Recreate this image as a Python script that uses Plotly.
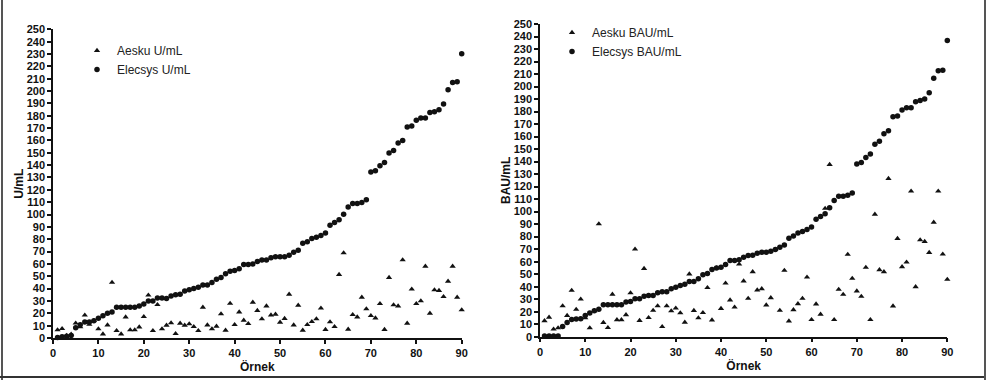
import plotly.graph_objects as go

samples = list(range(1, 91))

aesku_u = [6.5, 7.5, 2, 3, 12, 9, 18.5, 11, 14, 7.3,
           3.2, 10.5, 45, 5.9, 3.2, 17, 6.5, 6.5, 8.9, 17.3,
           34.7, 5.9, 27, 7.3, 10.3, 12.2, 3.5, 11.9, 10.3, 11.4,
           9.2, 5.9, 24.9, 10.5, 7.3, 9.5, 19.5, 6.2, 28, 10.8,
           21, 14.3, 11.6, 28.9, 22.2, 15.4, 25.9, 18.6, 19.2, 12.7,
           15.7, 35.4, 10.5, 26.5, 6.2, 10.8, 13.2, 15.4, 24.1, 6.8,
           13, 9.2, 51.4, 68.9, 7, 18.9, 17, 33, 23.5, 18.1,
           16.2, 27.8, 6.8, 48.9, 26.8, 25.9, 63.2, 11.9, 39.5, 27.8,
           30, 58.1, 20, 38.9, 38.4, 33.5, 45.9, 58.1, 33, 22.7]

elecsys_u = [0.5, 1, 1.5, 2, 8.4, 10.8, 13, 13, 14, 16,
             18, 20, 21, 25, 25, 25, 25, 25, 26, 27.5,
             30, 30, 32.4, 32.4, 32, 34, 35, 35.5, 38, 39,
             40, 41, 43, 43, 45, 47.5, 49, 52, 54, 54.6,
             56, 59.5, 59.5, 60, 62, 63.2, 63.2, 65, 65.7, 65.7,
             65.7, 67, 69.5, 71, 76.8, 78, 80.5, 81.6, 83, 85,
             91.4, 93.5, 95.7, 100.3, 106, 109, 109, 109.7, 111.9, 134.4,
             135.4, 139.5, 142.2, 149.8, 151.9, 157.9, 160, 170.9, 171.7, 176.3,
             178.2, 178.2, 182.7, 183.3, 184.9, 189.5, 201.1, 207, 207.6, 230.3]

aesku_bau = [12.7, 15.5, 6, 7, 24.6, 16.9, 37, 21.8, 30, 15,
             7, 20.7, 90.2, 11.3, 7.2, 33.9, 13.5, 13.5, 17.5, 35,
             70, 12.9, 54.5, 15.2, 21, 24.6, 8, 24.6, 20.6, 22.8,
             19, 11.5, 50.1, 20.9, 15, 19.2, 39.2, 13.3, 55, 22.5,
             42.8, 29.3, 23.6, 58, 44.5, 30.6, 51.9, 37.3, 38.3, 25.3,
             31.1, 69.7, 21, 53, 12.5, 21.5, 26.3, 30.6, 47.6, 13.6,
             26.1, 17.9, 102.5, 137.6, 13.6, 37.8, 33.8, 65.8, 46.6, 36.5,
             32.2, 55.4, 13.6, 97.9, 53.5, 51.9, 126.4, 24.5, 78.5, 55.9,
             59.6, 116.3, 39.9, 77.4, 76.1, 67.3, 91.5, 116.3, 66, 45.8]

elecsys_bau = [0.6, 0.6, 0.6, 0.6, 8.2, 11.4, 13.8, 14.1, 14.4, 17,
               18.9, 20.7, 22, 25.5, 25.5, 25.5, 25.5, 25.5, 27.7, 28.2,
               30.3, 30.3, 32.4, 33, 33, 35.1, 35.9, 35.9, 38.3, 39.6,
               41, 42, 44.1, 44.1, 46.3, 49.5, 50.5, 53.7, 55, 55.6,
               57.7, 60.9, 60.9, 61.6, 63.6, 64.9, 65.2, 66.8, 67.6, 67.6,
               68.4, 69.7, 71.6, 73.4, 78.8, 80.6, 83, 84.1, 85.7, 87.8,
               93.9, 96.1, 98.2, 103, 108.9, 112.3, 112.3, 113.1, 114.9, 138.1,
               139.2, 143.2, 146.1, 153.8, 156.2, 162.3, 164.7, 175.9, 176.4, 181.2,
               183.1, 183.1, 187.9, 188.9, 190, 195, 206.7, 212.6, 213.1, 236.8]

x_ticks = list(range(0, 91, 10))
y_ticks = list(range(0, 251, 10))

W, H = 986, 380
FONT = "Liberation Sans, Arial, sans-serif"
INK = "#111111"

fig = go.Figure()

def add_pair(tri, circ, tri_name, circ_name, xa, ya, leg):
    fig.add_trace(go.Scatter(x=samples, y=tri, mode="markers", name=tri_name,
                             xaxis=xa, yaxis=ya, legend=leg, cliponaxis=False,
                             marker=dict(symbol="triangle-up", size=5.5, color=INK,
                                         line=dict(width=0))))
    fig.add_trace(go.Scatter(x=samples, y=circ, mode="markers", name=circ_name,
                             xaxis=xa, yaxis=ya, legend=leg, cliponaxis=False,
                             marker=dict(symbol="circle", size=5.5, color=INK,
                                         line=dict(width=0))))

add_pair(aesku_u, elecsys_u, "Aesku U/mL", "Elecsys U/mL", "x", "y", "legend")
add_pair(aesku_bau, elecsys_bau, "Aesku BAU/mL", "Elecsys BAU/mL", "x2", "y2", "legend2")

tickfont = dict(family=FONT, size=11, color=INK, weight="bold")
titlefont = dict(family=FONT, size=12, color=INK, weight="bold")

def xaxis(domain, anchor):
    return dict(domain=domain, anchor=anchor, range=[0, 90], tickvals=x_ticks,
                showline=True, linecolor=INK, linewidth=1.5, ticks="outside",
                ticklen=4, tickwidth=1.5, tickcolor=INK, showgrid=False,
                zeroline=False, tickfont=tickfont, automargin=False,
                title=dict(text="Örnek", font=titlefont, standoff=0))

def yaxis(domain, anchor, title):
    return dict(domain=domain, anchor=anchor, range=[0, 250], tickvals=y_ticks,
                showline=True, linecolor=INK, linewidth=1.5, ticks="outside",
                ticklen=4, tickwidth=1.5, tickcolor=INK, showgrid=False,
                zeroline=False, tickfont=tickfont, automargin=False,
                title=dict(text=title, font=titlefont, standoff=0))

legfont = dict(family=FONT, size=12, color="#222222")

fig.update_layout(
    width=W, height=H,
    margin=dict(l=0, r=0, t=0, b=0, autoexpand=False),
    paper_bgcolor="white", plot_bgcolor="white",
    xaxis=xaxis([53 / W, 461.7 / W], "y"),
    yaxis=yaxis([1 - 338 / H, 1 - 29.3 / H], "x", "U/mL"),
    xaxis2=xaxis([540 / W, 947.3 / W], "y2"),
    yaxis2=yaxis([1 - 336.7 / H, 1 - 24 / H], "x2", "BAU/mL"),
    legend=dict(x=77 / W, y=1 - 36 / H, xanchor="left", yanchor="top",
                font=legfont, bgcolor="rgba(0,0,0,0)", tracegroupgap=0),
    legend2=dict(x=552 / W, y=1 - 18 / H, xanchor="left", yanchor="top",
                 font=legfont, bgcolor="rgba(0,0,0,0)", tracegroupgap=0),
    shapes=[
        dict(type="line", xref="paper", yref="paper", x0=2 / W, x1=2 / W, y0=0, y1=1,
             line=dict(color="#555555", width=2)),
        dict(type="line", xref="paper", yref="paper", x0=0, x1=1, y0=3 / H, y1=3 / H,
             line=dict(color="#333333", width=2)),
        dict(type="line", xref="paper", yref="paper", x0=985 / W, x1=985 / W, y0=0, y1=1,
             line=dict(color="#555555", width=2)),
    ],
)

fig.write_html("out.html", config={"displayModeBar": False},
               post_script="document.body.style.margin='0';")
